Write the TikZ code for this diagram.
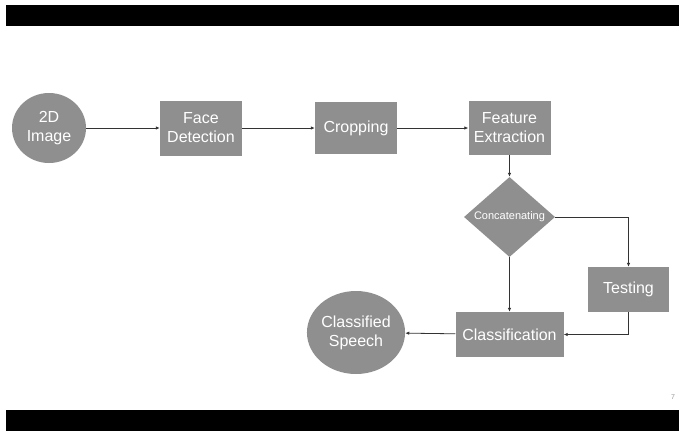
\documentclass[tikz,border=0pt]{standalone}
\usepackage{fontspec}
\setmainfont{Liberation Sans}
\usetikzlibrary{shapes.geometric,arrows.meta}
\definecolor{boxgray}{HTML}{8F8F8F}
\definecolor{linegray}{HTML}{333333}
\begin{document}
\begin{tikzpicture}[x=1pt,y=-1pt,
  box/.style={draw=none,fill=boxgray,text=white,font=\fontsize{16}{19}\selectfont,align=center,inner sep=0pt},
  oval/.style={box,ellipse},
  rbox/.style={box,rectangle},
  dia/.style={box,diamond,font=\fontsize{11}{13}\selectfont},
  conn/.style={draw=linegray,line width=0.8pt,-{Latex[length=4pt,width=3.5pt]}}]
\useasboundingbox (0,0) rectangle (679,431);
\fill[white] (0,0) rectangle (679,431);
\fill[black] (6,5) rectangle (679,26);
\fill[black] (6,410) rectangle (679,431);
\node[text=gray!80,font=\fontsize{7}{8}\selectfont] (pg) at (673,397) {7};

\node[oval,minimum width=74pt,minimum height=70pt] (img) at (49,128) {2D\\Image};
\node[rbox,minimum width=82pt,minimum height=55pt] (fd) at (201,128) {Face\\Detection};
\node[rbox,minimum width=82pt,minimum height=52pt] (crop) at (356,128) {Cropping};
\node[rbox,minimum width=82pt,minimum height=54pt] (fe) at (509.5,128) {Feature\\Extraction};
\node[dia,minimum width=91pt,minimum height=80pt,shape aspect=1.14] (cat) at (509.5,217) {Concatenating};
\node[rbox,minimum width=81pt,minimum height=45pt] (test) at (628.5,289.5) {Testing};
\node[rbox,minimum width=108pt,minimum height=45pt] (cls) at (509.5,334.5) {Classification};
\node[oval,minimum width=88pt,minimum height=83pt] (spc) at (356,332.5) {Classified\\Speech};

\draw[conn] (img) -- (fd);
\draw[conn] (fd) -- (crop);
\draw[conn] (crop) -- (fe);
\draw[conn] (fe) -- (cat);
\draw[conn] (cat.east) -| (test.north);
\draw[conn] (cat) -- (cls);
\draw[conn] (test.south) |- (cls.east);
\draw[conn] (cls) -- (spc);
\end{tikzpicture}
\end{document}
